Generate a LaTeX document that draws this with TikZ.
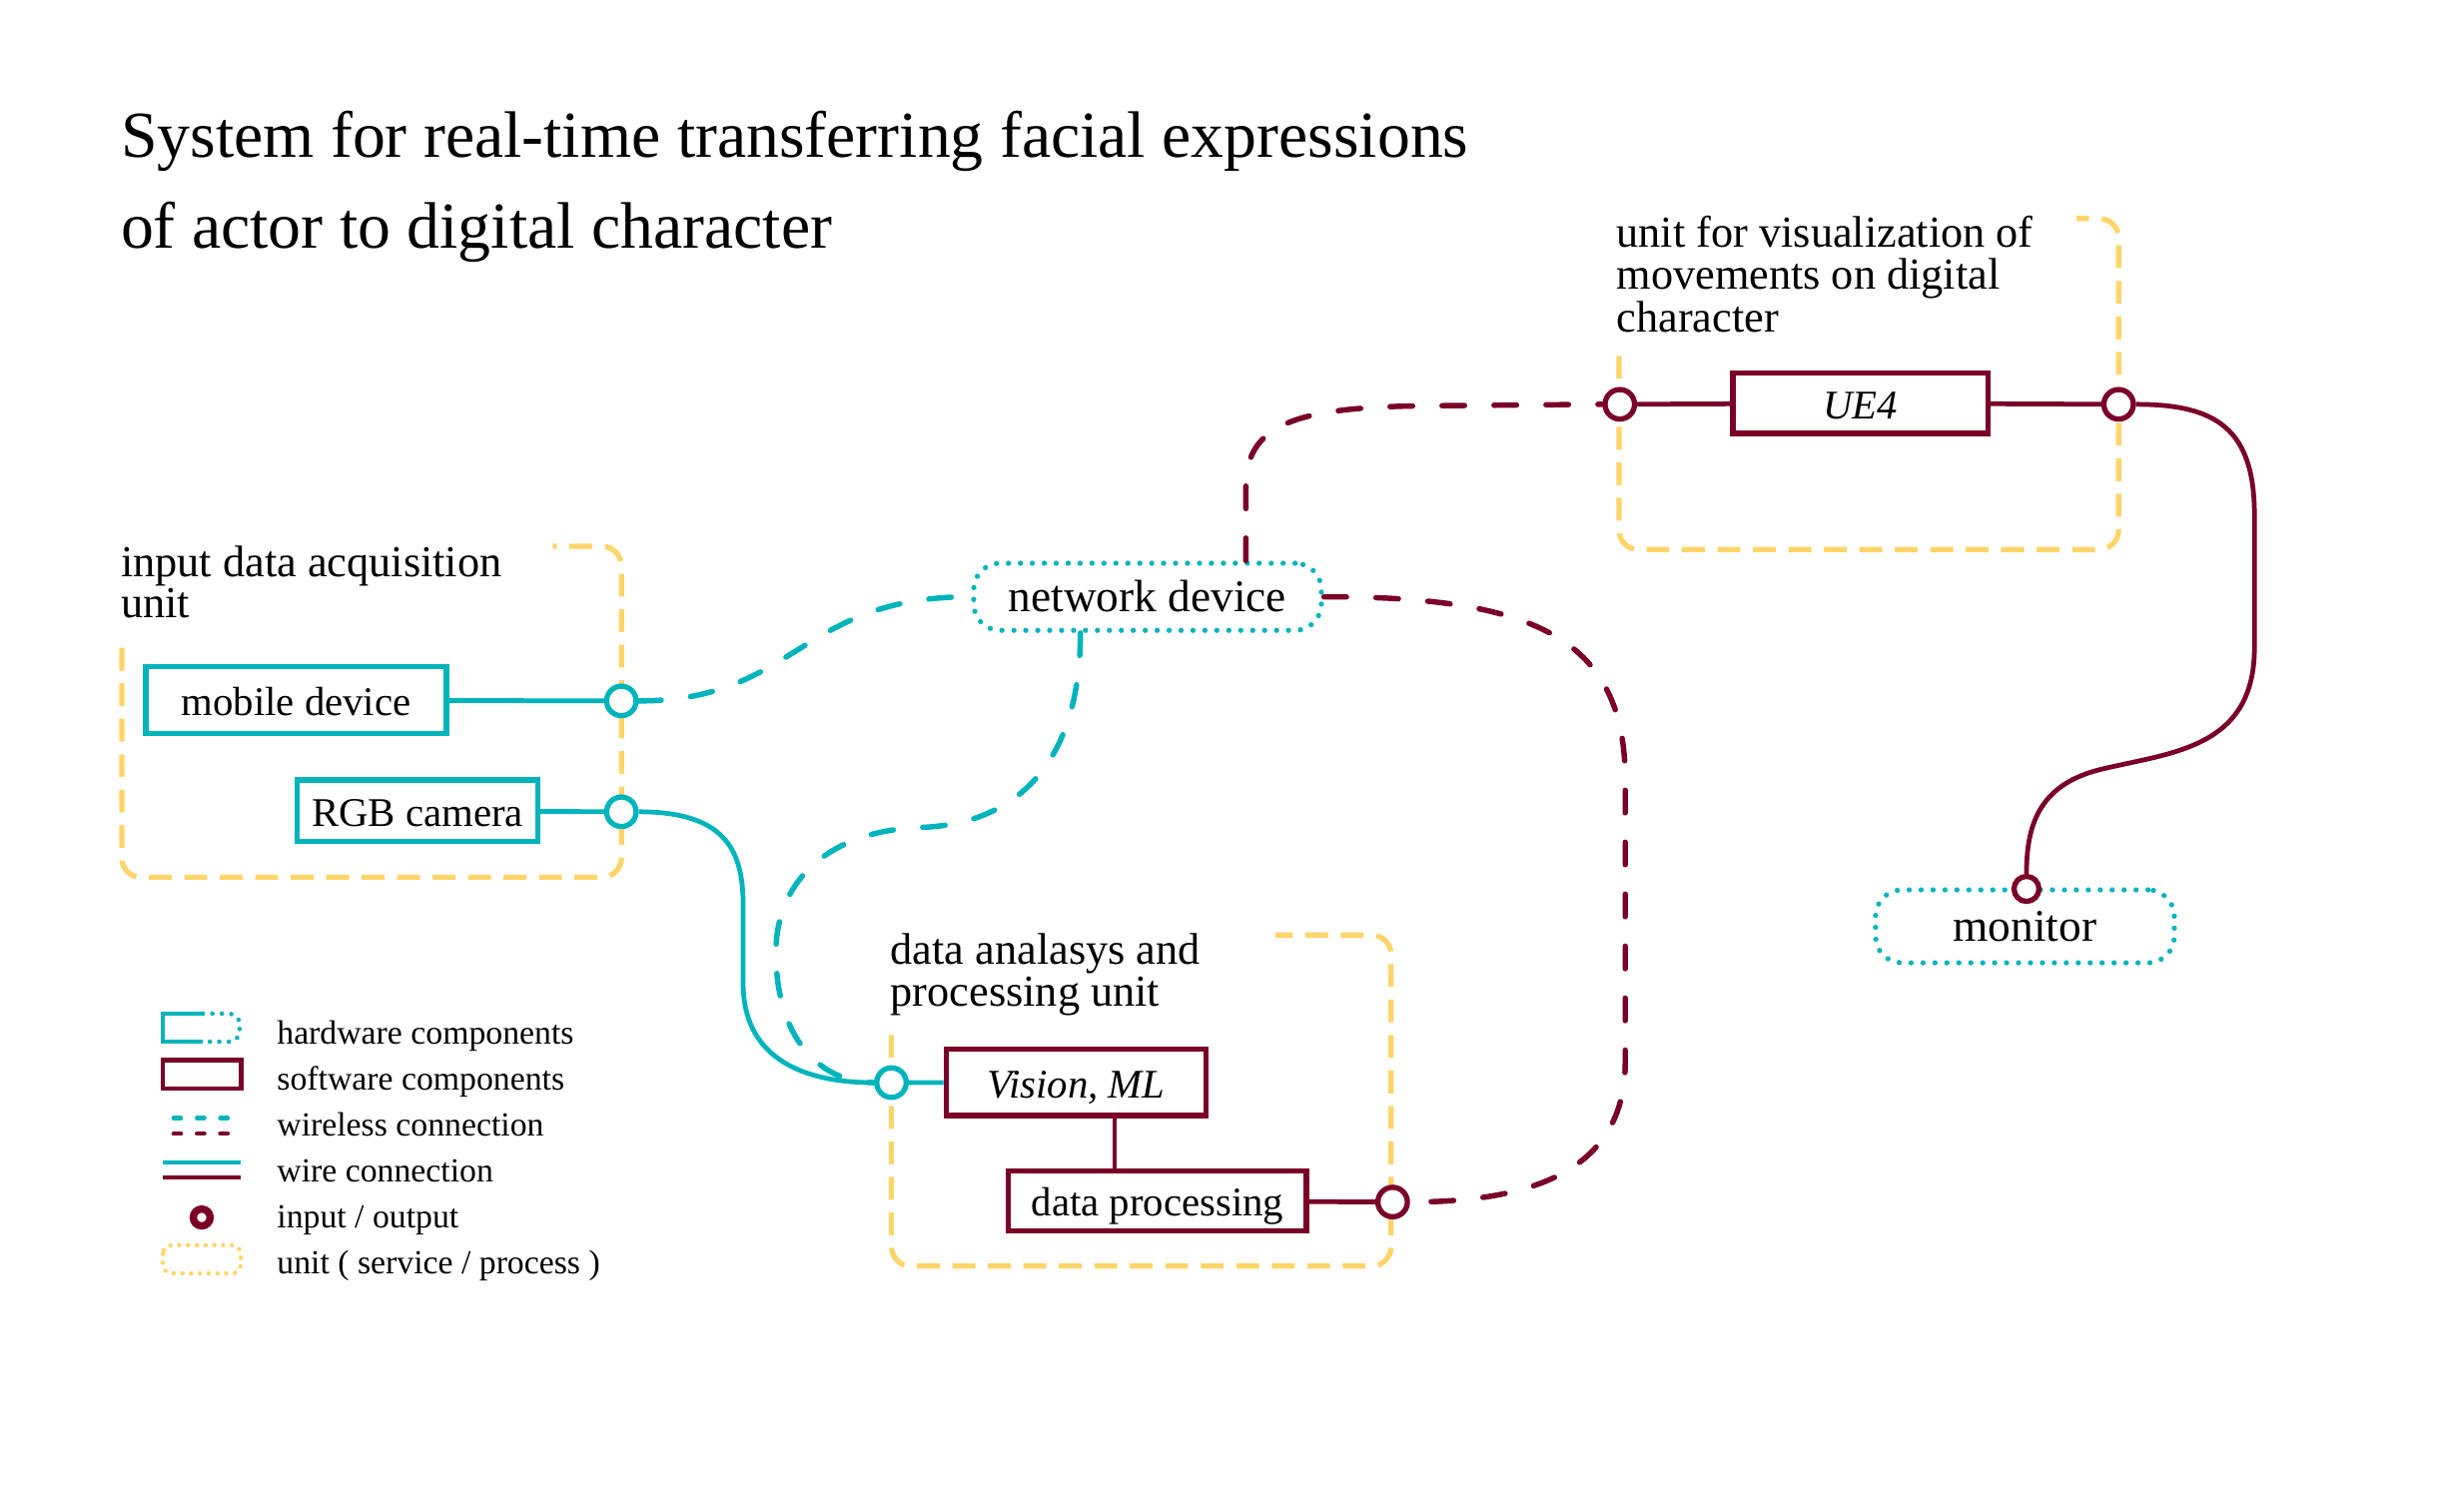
\documentclass[tikz,border=0pt]{standalone}
\usepackage{fontspec}
\setmainfont{Liberation Serif}
\definecolor{cy}{RGB}{0,180,188}
\definecolor{mr}{RGB}{122,0,40}
\definecolor{yl}{RGB}{255,213,106}
\def\U{0.44475pt}
\tikzset{
  titlef/.style={anchor=base west, inner sep=0pt, font=\fontsize{18.7}{25.8}\selectfont},
  unitlbl/.style={anchor=base west, inner sep=0pt, font=\fontsize{12.6}{12}\selectfont},
  lgd/.style={anchor=base west, inner sep=0pt, font=\fontsize{9.6}{11}\selectfont},
  hwbox/.style={draw=cy, line width=1.5pt, fill=white, inner sep=0pt,
    font=\fontsize{11.6}{13}\selectfont, text height=9.7pt, text depth=1pt},
  swbox/.style={draw=mr, line width=1.5pt, fill=white, inner sep=0pt,
    font=\fontsize{11.6}{13}\selectfont, text height=9.7pt, text depth=1pt},
  hwdot/.style={draw=cy, line width=1.5pt, dash pattern=on 0pt off 3.4pt, line cap=round,
    rounded corners=7.5pt, fill=white, inner sep=0pt,
    font=\fontsize{12.9}{14}\selectfont, text height=9.4pt, text depth=1pt},
  portc/.style={circle, draw=cy, fill=white, line width=1.5pt, minimum size=8.4pt, inner sep=0pt},
  portm/.style={circle, draw=mr, fill=white, line width=1.5pt, minimum size=8.4pt, inner sep=0pt},
  unitbox/.style={draw=yl, line width=1.5pt, dash pattern=on 6.5pt off 3.6pt, rounded corners=5.5pt},
  wirec/.style={draw=cy, line width=1.35pt},
  wirem/.style={draw=mr, line width=1.35pt},
  wlc/.style={draw=cy, line width=1.55pt, dash pattern=on 6.4pt off 8.4pt, line cap=round},
  wlm/.style={draw=mr, line width=1.55pt, dash pattern=on 6.4pt off 8.4pt, line cap=round},
  lgdash/.style={line width=1.35pt, dash pattern=on 2pt off 4.65pt, line cap=round},
}
\begin{document}
\begin{tikzpicture}[x=0.015631cm, y=-0.015631cm]
\useasboundingbox (0,0) rectangle (1568,968);

% title
\node[titlef] (t1) at (77,101) {System for real-time transferring facial expressions};
\node[titlef] (t2) at (77,159) {of actor to digital character};

% unit labels
\node[unitlbl] (ia1) at (77,369.5) {input data acquisition};
\node[unitlbl] (ia2) at (77,395.5) {unit};
\node[unitlbl] (uv1) at (1035,158.5) {unit for visualization of};
\node[unitlbl] (uv2) at (1035,185.5) {movements on digital};
\node[unitlbl] (uv3) at (1035,212.5) {character};
\node[unitlbl] (da1) at (570,617.5) {data analasys and};
\node[unitlbl] (da2) at (570,644.5) {processing unit};

% unit boxes
\draw[unitbox] (78,415) -- (78,562) -- (398,562) -- (398,350) -- (354,350);
\draw[unitbox] (1037,228) -- (1037,352) -- (1357,352) -- (1357,140) -- (1330,140);
\draw[unitbox] (571,663) -- (571,811) -- (891,811) -- (891,599) -- (817,599);

% components
\node[hwbox, minimum width=192.6*\U, minimum height=43*\U] (mob) at (189.7,448.5) {mobile device};
\node[hwbox, minimum width=154*\U, minimum height=39.4*\U] (rgb) at (267.5,519.3) {RGB camera};
\node[hwdot, minimum width=222.6*\U, minimum height=43*\U] (net) at (735,382.3) {network device};
\node[hwdot, minimum width=191.3*\U, minimum height=46.7*\U] (mon) at (1297,593.4) {monitor};
\node[swbox, minimum width=166.7*\U, minimum height=42.7*\U] (vis) at (689.3,693.3) {\itshape Vision, ML};
\node[swbox, minimum width=190.8*\U, minimum height=38.7*\U] (dp) at (741.4,769.3) {data processing};
\node[swbox, minimum width=163.4*\U, minimum height=38.7*\U] (ue) at (1191.7,258.3) {\itshape UE4};

% wires (solid)
\draw[wirec] (mob) -- (398,449);
\draw[wirec] (rgb) -- (398,520);
\draw[wirec] (571,693.5) -- (vis);
\draw[wirem] (dp) -- (892,770);
\draw[wirem] (1037.5,259) -- (ue);
\draw[wirem] (ue) -- (1357,259);
\draw[wirem] (vis.south -| 714,0) -- (dp.north -| 714,0);

% ports
\node[portc] (pm) at (398,449) {};
\node[portc] (pr) at (398,520) {};
\node[portc] (pv) at (571,693.5) {};
\node[portm] (pd) at (892,770) {};
\node[portm] (pu1) at (1037.5,259) {};
\node[portm] (pu2) at (1357,259) {};

% curved connectors
\draw[wlc] (pm.east) .. controls (510,449) and (512,382) .. (net.west);
\draw[wlc] (692,0 |- net.south) .. controls (692,490) and (650,528) .. (590,530)
   .. controls (530,532) and (497,565) .. (497,610)
   .. controls (497,665) and (525,693.5) .. (pv.west);
\draw[wirec] (pr.east) .. controls (465,520) and (476,545) .. (476,580) -- (476,630)
   .. controls (476,675) and (510,693.5) .. (pv.west);
\draw[wlm] (net.east) .. controls (985,382) and (1041,410) .. (1041,500) -- (1041,680)
   .. controls (1041,745) and (990,770) .. (pd.east);
\draw[wlm] (798,0 |- net.north) -- (798,310) .. controls (799,272) and (830,261) .. (910,260) -- (pu1.west);
\node[portm, minimum size=16*\U] (pmon) at (1298,569.4) {};
\draw[wirem] (pu2.east) .. controls (1420,259) and (1444,275) .. (1444,330) -- (1444,415)
   .. controls (1444,480) and (1390,482) .. (1345,493)
   .. controls (1305,503) and (1298,530) .. (pmon.north);

% legend symbols
\draw[cy, line width=1.25pt] (130,649.3) -- (104.3,649.3) -- (104.3,667.3) -- (130,667.3);
\draw[cy, line width=1.3pt, dash pattern=on 0pt off 2.7pt, line cap=round, rounded corners=3pt]
   (130,649.3) -- (153.5,649.3) -- (153.5,667.3) -- (130,667.3);
\draw[mr, line width=1.4pt] (104.3,679.3) rectangle (154.3,697.3);
\draw[cy, lgdash] (111.3,716.1) -- (145.8,716.1);
\draw[mr, lgdash] (111.3,726.1) -- (145.8,726.1);
\draw[cy, line width=1.25pt] (104.3,744.7) -- (154.3,744.7);
\draw[mr, line width=1.25pt] (104.3,754.3) -- (154.3,754.3);
\draw[mr, line width=2.1pt] (129.2,779.9) circle (5.4);
\draw[yl, line width=1.3pt, dash pattern=on 0pt off 2.5pt, line cap=round, rounded corners=2.5pt]
   (104.3,797.6) rectangle (154.2,815.7);

% legend texts
\node[lgd] (l1) at (177,668.6) {hardware components};
\node[lgd] (l2) at (177,698.2) {software components};
\node[lgd] (l3) at (177,727.6) {wireless connection};
\node[lgd] (l4) at (177,757) {wire connection};
\node[lgd] (l5) at (177,786.4) {input / output};
\node[lgd] (l6) at (177,815.8) {unit ( service / process )};
\end{tikzpicture}
\end{document}
